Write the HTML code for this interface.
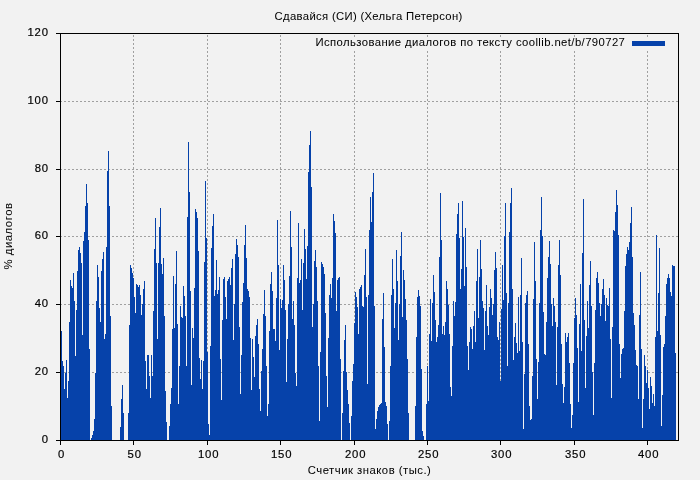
<!DOCTYPE html>
<html><head><meta charset="utf-8"><title>chart</title>
<style>
html,body{margin:0;padding:0;background:#f2f2f2;}
svg{display:block;}
text{font-family:"Liberation Sans",sans-serif;font-size:11.3px;letter-spacing:0.9px;}
text.w{letter-spacing:0.55px;}
text.d{stroke-width:0.2px;}
</style></head><body>
<svg width="700" height="480" viewBox="0 0 700 480">
<rect x="0" y="0" width="700" height="480" fill="#f2f2f2"/>
<g stroke="#a0a0a0" stroke-width="1" stroke-dasharray="2 2" shape-rendering="crispEdges" fill="none"><line x1="60" y1="372.50" x2="678" y2="372.50"/><line x1="60" y1="304.50" x2="678" y2="304.50"/><line x1="60" y1="236.50" x2="678" y2="236.50"/><line x1="60" y1="169.50" x2="678" y2="169.50"/><line x1="60" y1="101.50" x2="678" y2="101.50"/><line x1="133.50" y1="35" x2="133.50" y2="440"/><line x1="207.50" y1="35" x2="207.50" y2="440"/><line x1="280.50" y1="35" x2="280.50" y2="440"/><line x1="354.50" y1="35" x2="354.50" y2="440"/><line x1="427.50" y1="35" x2="427.50" y2="440"/><line x1="500.50" y1="35" x2="500.50" y2="440"/><line x1="574.50" y1="35" x2="574.50" y2="440"/><line x1="647.50" y1="35" x2="647.50" y2="440"/></g>
<rect x="312" y="38" width="362" height="13" fill="#f2f2f2"/>
<path fill="#0642aa" shape-rendering="crispEdges" d="M61,440V331H62V361H63V366H64V389H65V373H66V360H67V398H68V381H69V322H70V280H71V286H72V288H73V273H74V301H75V356H76V310H77V271H78V250H79V247H80V253H81V263H82V335H83V241H84V232H85V206H86V184H87V203H88V240H89V349H90V440H91V438H92V435H93V431H94V419H95V373H96V301H97V265H98V277H99V308H100V322H101V271H102V259H103V252H104V339H105V334H106V247H107V171H108V151H109V206H110V316H111V406H112V440H113V440H114V440H115V440H116V440H117V440H118V440H119V440H120V427H121V399H122V385H123V413H124V440H125V440H126V440H127V440H128V413H129V325H130V265H131V268H132V273H133V278H134V297H135V313H136V284H137V285H138V287H139V285H140V295H141V315H142V304H143V289H144V281H145V361H146V389H147V355H148V355H149V376H150V398H151V355H152V376H153V311H154V249H155V218H156V263H157V339H158V263H159V227H160V208H161V264H162V274H163V258H164V316H165V391H166V422H167V440H168V440H169V426H170V404H171V388H172V329H173V276H174V328H175V284H176V251H177V324H178V404H179V366H180V306H181V317H182V318H183V286H184V296H185V316H186V366H187V217H188V142H189V192H190V291H191V385H192V328H193V338H194V288H195V209H196V212H197V218H198V251H199V358H200V379H201V360H202V389H203V361H204V262H205V181H206V238H207V352H208V424H209V435H210V346H211V248H212V226H213V214H214V296H215V290H216V260H217V294H218V290H219V277H220V359H221V400H222V320H223V279H224V277H225V297H226V319H227V281H228V279H229V277H230V285H231V268H232V259H233V340H234V304H235V254H236V239H237V245H238V257H239V327H240V394H241V355H242V302H243V283H244V245H245V225H246V258H247V289H248V291H249V297H250V338H251V390H252V339H253V357H254V377H255V336H256V325H257V319H258V344H259V389H260V411H261V371H262V349H263V314H264V290H265V316H266V366H267V416H268V404H269V331H270V284H271V272H272V291H273V329H274V329H275V341H276V298H277V220H278V265H279V350H280V299H281V308H282V300H283V265H284V280H285V310H286V382H287V339H288V304H289V276H290V211H291V247H292V319H293V301H294V325H295V373H296V386H297V278H298V223H299V283H300V280H301V259H302V310H303V263H304V229H305V249H306V279H307V246H308V172H309V145H310V131H311V187H312V327H313V304H314V261H315V250H316V267H317V301H318V366H319V421H320V352H321V262H322V264H323V267H324V274H325V313H326V376H327V407H328V338H329V295H330V284H331V298H332V278H333V214H334V221H335V233H336V311H337V280H338V278H339V277H340V359H341V440H342V413H343V371H344V340H345V325H346V372H347V390H348V404H349V423H350V440H351V416H352V381H353V364H354V323H355V292H356V297H357V307H358V334H359V289H360V287H361V285H362V306H363V307H364V275H365V249H366V297H367V384H368V295H369V230H370V197H371V222H372V192H373V173H374V306H375V429H376V419H377V411H378V407H379V405H380V404H381V403H382V319H383V293H384V347H385V402H386V406H387V424H388V440H389V421H390V366H391V295H392V259H393V289H394V328H395V303H396V250H397V281H398V340H399V304H400V256H401V232H402V317H403V270H404V280H405V299H406V320H407V359H408V413H409V440H410V440H411V440H412V440H413V440H414V440H415V406H416V337H417V297H418V290H419V296H420V306H421V369H422V431H423V436H424V440H425V440H426V404H427V366H428V401H429V334H430V299H431V341H432V303H433V275H434V292H435V320H436V342H437V337H438V325H439V257H440V193H441V240H442V334H443V326H444V335H445V322H446V281H447V289H448V305H449V334H450V387H451V396H452V346H453V301H454V316H455V302H456V234H457V214H458V203H459V238H460V289H461V269H462V201H463V237H464V286H465V228H466V267H467V346H468V370H469V342H470V327H471V329H472V349H473V326H474V311H475V342H476V281H477V249H478V318H479V277H480V240H481V269H482V301H483V308H484V350H485V311H486V285H487V326H488V335H489V307H490V289H491V298H492V315H493V304H494V270H495V252H496V268H497V337H498V340H499V322H500V381H501V309H502V265H503V300H504V236H505V203H506V293H507V366H508V303H509V232H510V203H511V188H512V289H513V360H514V337H515V323H516V343H517V353H518V297H519V351H520V295H521V258H522V342H523V429H524V374H525V303H526V295H527V291H528V344H529V406H530V420H531V419H532V376H533V299H534V242H535V281H536V359H537V399H538V362H539V303H540V230H541V197H542V236H543V312H544V354H545V355H546V322H547V278H548V257H549V241H550V264H551V304H552V326H553V298H554V306H555V322H556V385H557V327H558V265H559V240H560V275H561V344H562V384H563V403H564V387H565V333H566V342H567V337H568V333H569V363H570V404H571V428H572V415H573V363H574V318H575V298H576V315H577V348H578V402H579V324H580V284H581V351H582V253H583V199H584V320H585V388H586V336H587V301H588V328H589V285H590V261H591V306H592V372H593V415H594V363H595V310H596V278H597V272H598V283H599V303H600V316H601V304H602V289H603V279H604V295H605V321H606V298H607V305H608V306H609V288H610V339H611V398H612V327H613V230H614V231H615V212H616V190H617V205H618V235H619V344H620V378H621V354H622V349H623V348H624V311H625V266H626V254H627V247H628V250H629V242H630V223H631V207H632V257H633V313H634V325H635V350H636V365H637V366H638V399H639V315H640V272H641V349H642V428H643V399H644V355H645V366H646V383H647V370H648V388H649V409H650V377H651V386H652V403H653V394H654V406H655V337H656V235H657V331H658V293H659V248H660V335H661V426H662V395H663V347H664V344H665V316H666V284H667V278H668V274H669V278H670V292H671V296H672V265H673V266H674V266H675V353H676V440H677V440H678V440Z"/>
<rect x="632" y="41" width="33" height="5" fill="#0642aa"/>
<g stroke="#000" stroke-width="1" fill="none" shape-rendering="crispEdges"><rect x="60.5" y="33.5" width="618" height="407" fill="none"/><line x1="56" y1="440.50" x2="60" y2="440.50"/><line x1="56" y1="372.50" x2="60" y2="372.50"/><line x1="56" y1="304.50" x2="60" y2="304.50"/><line x1="56" y1="236.50" x2="60" y2="236.50"/><line x1="56" y1="169.50" x2="60" y2="169.50"/><line x1="56" y1="101.50" x2="60" y2="101.50"/><line x1="56" y1="33.50" x2="60" y2="33.50"/><line x1="60.50" y1="441" x2="60.50" y2="445"/><line x1="133.50" y1="441" x2="133.50" y2="445"/><line x1="207.50" y1="441" x2="207.50" y2="445"/><line x1="280.50" y1="441" x2="280.50" y2="445"/><line x1="354.50" y1="441" x2="354.50" y2="445"/><line x1="427.50" y1="441" x2="427.50" y2="445"/><line x1="500.50" y1="441" x2="500.50" y2="445"/><line x1="574.50" y1="441" x2="574.50" y2="445"/><line x1="647.50" y1="441" x2="647.50" y2="445"/></g>
<g fill="#000" stroke="#000" stroke-width="0.04" style="opacity:0.999"><text x="49" y="443.0" text-anchor="end" class="d">0</text><text x="49" y="375.0" text-anchor="end" class="d">20</text><text x="49" y="307.0" text-anchor="end" class="d">40</text><text x="49" y="239.0" text-anchor="end" class="d">60</text><text x="49" y="172.0" text-anchor="end" class="d">80</text><text x="49" y="104.0" text-anchor="end" class="d">100</text><text x="49" y="36.0" text-anchor="end" class="d">120</text><text x="61.7" y="458" text-anchor="middle" class="d">0</text><text x="134.7" y="458" text-anchor="middle" class="d">50</text><text x="208.7" y="458" text-anchor="middle" class="d">100</text><text x="281.7" y="458" text-anchor="middle" class="d">150</text><text x="355.7" y="458" text-anchor="middle" class="d">200</text><text x="428.7" y="458" text-anchor="middle" class="d">250</text><text x="501.7" y="458" text-anchor="middle" class="d">300</text><text x="575.7" y="458" text-anchor="middle" class="d">350</text><text x="648.7" y="458" text-anchor="middle" class="d">400</text><text x="368.6" y="20" text-anchor="middle" class="w" style="letter-spacing:0.32px">Сдавайся (СИ) (Хельга Петерсон)</text><text x="625.3" y="46" text-anchor="end" class="w" style="letter-spacing:0.41px">Использование диалогов по тексту coollib.net/b/790727</text><text x="369.6" y="474" text-anchor="middle" class="w" style="letter-spacing:0.5px">Счетчик знаков (тыс.)</text><text transform="translate(12,236) rotate(-90)" text-anchor="middle" class="w">% диалогов</text></g>
</svg>
</body></html>
